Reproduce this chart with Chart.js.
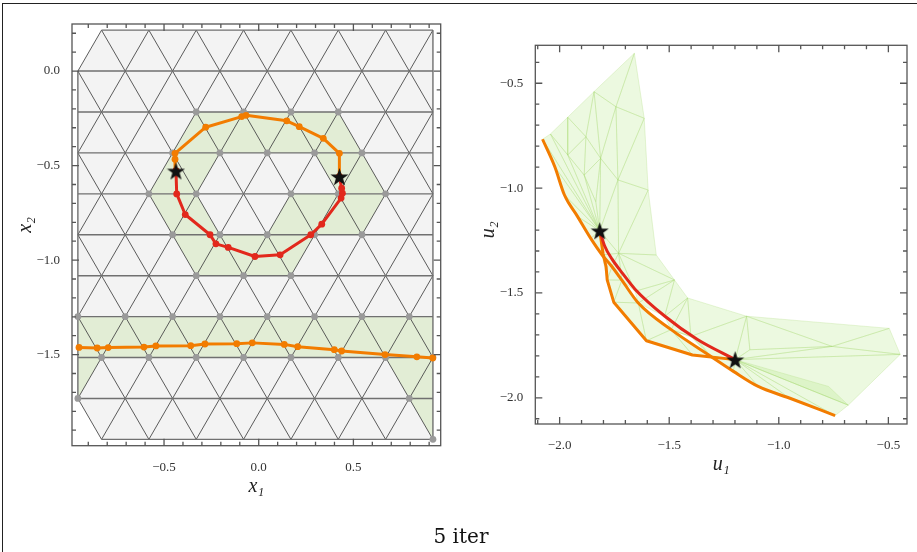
<!DOCTYPE html>
<html>
<head>
<meta charset="utf-8">
<script src="https://cdn.jsdelivr.net/npm/chart.js@4.4.0/dist/chart.umd.min.js"></script>
<style>
  body { margin: 0; background: #fff; width: 917px; height: 552px; overflow: hidden; position: relative; }
  #cl { position: absolute; left: 0; top: 0; }
  #cr { position: absolute; left: 460px; top: 0; }
  #frame { position: absolute; left: 2px; top: 3px; width: 915px; height: 549px;
           border-left: 1.3px solid #222; border-top: 1.3px solid #222; pointer-events: none; }
  #caption { position: absolute; left: 0; width: 922px; top: 526px; text-align: center;
             font: 20px "DejaVu Serif", serif; line-height: 20px; color: #111; }
</style>
</head>
<body>
<canvas id="cl" width="460" height="552"></canvas>
<canvas id="cr" width="457" height="552"></canvas>
<div id="frame"></div>
<div id="caption">5 iter</div>
<script>
// ---- left panel: triangular mesh in x-space ----
const rowY = [0.2165, 0, -0.2165, -0.433, -0.6495, -0.866, -1.0825, -1.299, -1.5155, -1.732, -1.9485];
const evenX = [-0.955, -0.705, -0.455, -0.205, 0.045, 0.295, 0.545, 0.795];
const oddX = [-0.83, -0.58, -0.33, -0.08, 0.17, 0.42, 0.67, 0.92];
const meshLeft = -0.955, meshRight = 0.92;

// shaded cells (unions of mesh triangles)
const greenCells = [
  [[-0.33,-0.2165],[0.42,-0.2165],[0.545,-0.433],[-0.455,-0.433]],
  [[-0.455,-0.433],[-0.205,-0.433],[-0.33,-0.6495],[-0.58,-0.6495]],
  [[-0.58,-0.6495],[-0.33,-0.6495],[-0.205,-0.866],[-0.455,-0.866]],
  [[-0.455,-0.866],[0.295,-0.866],[0.17,-1.0825],[-0.33,-1.0825]],
  [[0.295,-0.433],[0.545,-0.433],[0.67,-0.6495],[0.42,-0.6495]],
  [[0.17,-0.6495],[0.67,-0.6495],[0.545,-0.866],[0.045,-0.866]],
  [[-0.955,-1.299],[0.92,-1.299],[0.92,-1.5155],[-0.955,-1.5155]],
  [[-0.955,-1.5155],[-0.83,-1.5155],[-0.955,-1.732]],
  [[0.67,-1.5155],[0.92,-1.5155],[0.92,-1.732],[0.795,-1.732]],
  [[0.795,-1.732],[0.92,-1.732],[0.92,-1.9485]]
];

const grayNodes = [
  [-0.33,-0.2165],[-0.08,-0.2165],[0.17,-0.2165],[0.42,-0.2165],
  [-0.455,-0.433],[-0.205,-0.433],[0.045,-0.433],[0.295,-0.433],[0.545,-0.433],
  [-0.58,-0.6495],[-0.33,-0.6495],[0.17,-0.6495],[0.42,-0.6495],[0.67,-0.6495],
  [-0.455,-0.866],[-0.205,-0.866],[0.045,-0.866],[0.295,-0.866],[0.545,-0.866],
  [-0.33,-1.0825],[-0.08,-1.0825],[0.17,-1.0825],
  [-0.955,-1.299],[-0.705,-1.299],[-0.455,-1.299],[-0.205,-1.299],[0.045,-1.299],[0.295,-1.299],[0.545,-1.299],[0.795,-1.299],
  [-0.83,-1.5155],[-0.58,-1.5155],[-0.33,-1.5155],[-0.08,-1.5155],[0.17,-1.5155],[0.42,-1.5155],[0.67,-1.5155],[0.92,-1.5155],
  [-0.955,-1.732],[0.795,-1.732],[0.92,-1.9485]
];

const orangeUpperX = [[-0.437,-0.528],[-0.442,-0.466],[-0.442,-0.435],[-0.280,-0.297],[-0.090,-0.241],[-0.067,-0.234],
  [0.148,-0.263],[0.214,-0.294],[0.341,-0.356],[0.426,-0.435],[0.426,-0.558]];
const redX = [[-0.437,-0.528],[-0.433,-0.650],[-0.388,-0.759],[-0.257,-0.866],[-0.226,-0.914],[-0.161,-0.933],
  [-0.020,-0.981],[0.113,-0.972],[0.275,-0.866],[0.333,-0.810],[0.435,-0.672],[0.442,-0.646],[0.438,-0.620],[0.426,-0.558]];
const orangeLowerX = [[-0.949,-1.462],[-0.853,-1.465],[-0.795,-1.463],[-0.606,-1.460],[-0.543,-1.454],[-0.359,-1.453],
  [-0.284,-1.444],[-0.116,-1.442],[-0.034,-1.438],[0.135,-1.446],[0.206,-1.458],[0.399,-1.474],[0.438,-1.481],
  [0.667,-1.500],[0.835,-1.512],[0.919,-1.518]];
const starsX = [[-0.437,-0.528],[0.426,-0.558]];

const xTicksL = [-0.5, 0, 0.5];
const yTicksL = [0, -0.5, -1.0, -1.5];

// ---- right panel: image in u-space ----
const imgVerts = [
  [-1.659,-0.357],[-1.843,-0.540],[-1.963,-0.662],[-2.042,-0.742],[-2.078,-0.767],
  [-1.743,-0.612],[-1.614,-0.667],[-1.880,-0.755],[-1.813,-0.858],[-1.734,-0.961],
  [-1.596,-1.009],[-1.963,-0.842],[-1.888,-0.938],[-1.835,-1.065],[-1.817,-1.203],
  [-1.731,-1.311],[-1.559,-1.319],[-1.476,-1.438],[-1.416,-1.524],[-1.147,-1.611],
  [-0.496,-1.669],[-0.446,-1.793],[-0.683,-2.035],[-0.743,-2.085],[-1.199,-1.818],
  [-0.757,-1.755],[-1.132,-1.771],[-1.401,-1.707],[-0.773,-1.946],[-2.022,-0.898],
  [-1.978,-1.033],[-1.918,-1.136],[-1.858,-1.240],[-1.806,-1.319],[-1.761,-1.375],
  [-1.716,-1.439],[-1.641,-1.548],[-1.491,-1.675],[-1.311,-1.802],[-1.207,-1.874],
  [-1.094,-1.946],[-0.952,-2.001],[-1.656,-1.492],[-1.521,-1.612],[-1.371,-1.722],
  [-1.783,-1.438],[-1.753,-1.544],[-1.604,-1.728],[-1.394,-1.796]
];
const imgTris = [
  [0,1,5],[0,5,6],[1,2,7],[1,7,8],[1,8,5],[5,8,9],[5,9,6],[6,9,10],[2,3,11],[2,11,7],
  [7,11,12],[7,12,8],[8,12,13],[8,13,14],[8,14,9],[9,14,15],[9,15,10],[10,15,16],[16,15,17],
  [14,4,29],[14,29,30],[14,30,31],[14,31,32],[14,32,33],[4,3,14],[3,11,14],[11,12,14],[12,13,14],
  [14,33,15],[15,33,34],[15,34,35],[15,35,42],[15,42,17],[17,42,36],[17,36,43],[17,43,18],
  [18,43,37],[18,37,27],[27,37,44],[27,44,38],[27,38,24],[18,27,19],[19,27,24],[24,38,39],
  [33,45,34],[34,45,35],[35,45,46],[35,46,36],[36,46,47],[36,47,37],[37,47,48],[37,48,38],[38,48,24],
  [19,20,25],[20,21,25],[19,25,26],[19,26,24],[24,26,25],[24,25,21],[24,21,22],[24,22,23],
  [24,39,40],[24,40,41],[24,41,23],[24,28,22]
];

const curveAU = [[-2.078,-0.767],[-2.022,-0.898],[-1.978,-1.033],[-1.918,-1.136],[-1.858,-1.240],[-1.806,-1.319],
  [-1.761,-1.375],[-1.716,-1.439],[-1.641,-1.548],[-1.491,-1.675],[-1.311,-1.802],[-1.207,-1.874],
  [-1.094,-1.946],[-0.952,-2.001],[-0.743,-2.085]];
const orangeBU = [[-1.817,-1.203],[-1.802,-1.311],[-1.788,-1.375],[-1.783,-1.438],[-1.753,-1.544],
  [-1.604,-1.728],[-1.394,-1.796],[-1.199,-1.818]];
const redU = [[-1.817,-1.203],[-1.795,-1.275],[-1.760,-1.340],[-1.712,-1.408],[-1.656,-1.482],
  [-1.521,-1.610],[-1.371,-1.722],[-1.199,-1.818]];
const starsU = [[-1.817,-1.203],[-1.199,-1.818]];

const xTicksR = [-2.0, -1.5, -1.0, -0.5];
const yTicksR = [-0.5, -1.0, -1.5, -2.0];

// ---- helpers ----
const ORANGE = 'rgb(242,124,0)';
const RED = 'rgb(226,40,28)';
const SERIF = "'Liberation Serif', 'Times New Roman', serif";
const gap = {x: null, y: null};
const pts = a => a.map(p => ({x: p[0], y: p[1]}));
const fmt = v => (v < -1e-9 ? '\u2212' : '') + Math.abs(v).toFixed(1);

function polys(list) {
  const out = [];
  list.forEach(poly => { out.push(...pts(poly), {x: poly[0][0], y: poly[0][1]}, gap); });
  return out;
}

function rowVerts(r) {
  const xs = r % 2 === 0 ? oddX.slice() : evenX.slice();
  if (r % 2 === 0 && r > 0 && r < rowY.length - 1) xs.unshift(meshLeft);
  if (r % 2 === 1) xs.push(meshRight);
  return xs;
}

const hLines = [], dLines = [];
rowY.forEach((y, r) => {
  const xs = rowVerts(r);
  hLines.push({x: xs[0], y: y}, {x: xs[xs.length - 1], y: y}, gap);
});
hLines.push({x: meshLeft, y: rowY[1]}, {x: meshLeft, y: rowY[9]}, gap);
hLines.push({x: meshRight, y: rowY[0]}, {x: meshRight, y: rowY[10]}, gap);
for (let r = 0; r < rowY.length - 1; r++) {
  const a = rowVerts(r), b = rowVerts(r + 1);
  a.forEach(xa => b.forEach(xb => {
    if (Math.abs(Math.abs(xa - xb) - 0.125) < 0.01) dLines.push({x: xa, y: rowY[r]}, {x: xb, y: rowY[r + 1]}, gap);
  }));
}
const meshOutline = [[-0.83,0.2165],[0.92,0.2165],[0.92,-1.9485],[-0.83,-1.9485],[-0.955,-1.732],[-0.955,0]];

function starImage(size) {
  const c = document.createElement('canvas');
  c.width = c.height = size;
  const g = c.getContext('2d');
  g.fillStyle = '#111';
  g.beginPath();
  for (let i = 0; i < 10; i++) {
    const r = i % 2 ? size * 0.2 : size * 0.5;
    const a = -Math.PI / 2 + i * Math.PI / 5;
    g.lineTo(size / 2 + r * Math.cos(a), size / 2 + r * Math.sin(a) + size * 0.05);
  }
  g.closePath();
  g.fill();
  return c;
}
const star = starImage(19);

// frame with inward ticks on all four sides (Mathematica style)
const frameTicks = {
  id: 'frameTicks',
  afterDraw(chart) {
    const {ctx, chartArea: a} = chart;
    const sx = chart.scales.x, sy = chart.scales.y;
    ctx.save();
    ctx.strokeStyle = '#555';
    ctx.lineWidth = 1.3;
    ctx.strokeRect(a.left, a.top, a.right - a.left, a.bottom - a.top);
    ctx.beginPath();
    for (let k = Math.ceil(sx.min * 10 - 1e-6); k <= Math.floor(sx.max * 10 + 1e-6); k++) {
      const p = sx.getPixelForValue(k / 10), len = k % 5 === 0 ? 7 : 4;
      ctx.moveTo(p, a.bottom); ctx.lineTo(p, a.bottom - len);
      ctx.moveTo(p, a.top); ctx.lineTo(p, a.top + len);
    }
    for (let k = Math.ceil(sy.min * 10 - 1e-6); k <= Math.floor(sy.max * 10 + 1e-6); k++) {
      const p = sy.getPixelForValue(k / 10), len = k % 5 === 0 ? 7 : 4;
      ctx.moveTo(a.left, p); ctx.lineTo(a.left + len, p);
      ctx.moveTo(a.right, p); ctx.lineTo(a.right - len, p);
    }
    ctx.stroke();
    ctx.restore();
  }
};

function axis(o) {
  return {
    type: 'linear', min: o.min, max: o.max,
    grid: {display: false}, border: {display: false},
    afterBuildTicks: s => { s.ticks = o.ticks.map(v => ({value: v})); },
    afterFit: s => { if (o.width) s.width = o.width; if (o.height) s.height = o.height; },
    ticks: {callback: fmt, autoSkip: false, maxRotation: 0, padding: o.pad, color: '#333',
            font: {family: SERIF, size: 13}},
    title: {display: true, text: o.title, color: '#222', padding: o.titlePad,
            font: {family: SERIF, size: 20, style: 'italic'}}
  };
}

const common = {
  responsive: false, animation: false, events: [],
  plugins: {legend: {display: false}, tooltip: {enabled: false}}
};

new Chart(document.getElementById('cl'), {
  type: 'line',
  data: {
    datasets: [
      {data: polys([meshOutline]), fill: 'shape', backgroundColor: '#f3f3f3', borderWidth: 0, pointRadius: 0, order: 10},
      {data: polys(greenCells), fill: 'shape', backgroundColor: 'rgb(226,237,213)', borderWidth: 0, pointRadius: 0, order: 9},
      {data: dLines, borderColor: '#4a4a4a', borderWidth: 0.9, pointRadius: 0, order: 8},
      {data: hLines, borderColor: '#707070', borderWidth: 1.4, pointRadius: 0, order: 7},
      {data: pts(grayNodes), showLine: false, pointRadius: 3.4, pointBackgroundColor: '#9a9a9a', pointBorderWidth: 0, order: 6},
      {data: pts(orangeLowerX), borderColor: ORANGE, borderWidth: 3, pointRadius: 3.4, pointBackgroundColor: ORANGE,
       pointBorderWidth: 0, borderJoinStyle: 'round', order: 5},
      {data: pts(orangeUpperX), borderColor: ORANGE, borderWidth: 3, pointRadius: 3.4, pointBackgroundColor: ORANGE,
       pointBorderWidth: 0, borderJoinStyle: 'round', order: 4},
      {data: pts(redX), borderColor: RED, borderWidth: 3, pointRadius: 3.4, pointBackgroundColor: RED,
       pointBorderWidth: 0, borderJoinStyle: 'round', order: 3},
      {data: pts(starsX), showLine: false, pointStyle: star, pointRadius: 9, order: 1}
    ]
  },
  options: Object.assign({}, common, {
    layout: {padding: {top: 24, right: 19.3, left: 0, bottom: 0}},
    scales: {
      x: axis({min: -0.986, max: 0.961, ticks: xTicksL, height: 106.3, pad: 6, title: 'x\u2081', titlePad: {bottom: 53}}),
      y: axis({min: -1.982, max: 0.249, ticks: yTicksL, width: 72, pad: 4, title: '\u2002\u2002x\u2082', titlePad: {top: 13.5}})
    }
  }),
  plugins: [frameTicks]
});

const triData = [];
imgTris.forEach(t => {
  t.forEach(i => triData.push({x: imgVerts[i][0], y: imgVerts[i][1]}));
  triData.push({x: imgVerts[t[0]][0], y: imgVerts[t[0]][1]}, gap);
});

new Chart(document.getElementById('cr'), {
  type: 'line',
  data: {
    datasets: [
      {data: triData, fill: 'shape', backgroundColor: 'rgba(180,230,130,0.25)', borderColor: 'rgba(165,215,110,0.32)',
       borderWidth: 0.8, pointRadius: 0, order: 10},
      {data: pts(curveAU), borderColor: ORANGE, borderWidth: 3, pointRadius: 0, cubicInterpolationMode: 'monotone', order: 5},
      {data: pts(orangeBU), borderColor: ORANGE, borderWidth: 3, pointRadius: 0, borderJoinStyle: 'round', order: 4},
      {data: pts(redU), borderColor: RED, borderWidth: 3, pointRadius: 0, cubicInterpolationMode: 'monotone', order: 3},
      {data: pts(starsU), showLine: false, pointStyle: star, pointRadius: 9, order: 1}
    ]
  },
  options: Object.assign({}, common, {
    layout: {padding: {top: 45.3, right: 4, left: 0, bottom: 0}},
    scales: {
      x: axis({min: -2.111, max: -0.415, ticks: xTicksR, height: 128, pad: 6, title: 'u\u2081', titlePad: {bottom: 75}}),
      y: axis({min: -2.125, max: -0.319, ticks: yTicksR, width: 75.3, pad: 4, title: '\u2002u\u2082', titlePad: {top: 16.3}})
    }
  }),
  plugins: [frameTicks]
});
</script>
</body>
</html>
